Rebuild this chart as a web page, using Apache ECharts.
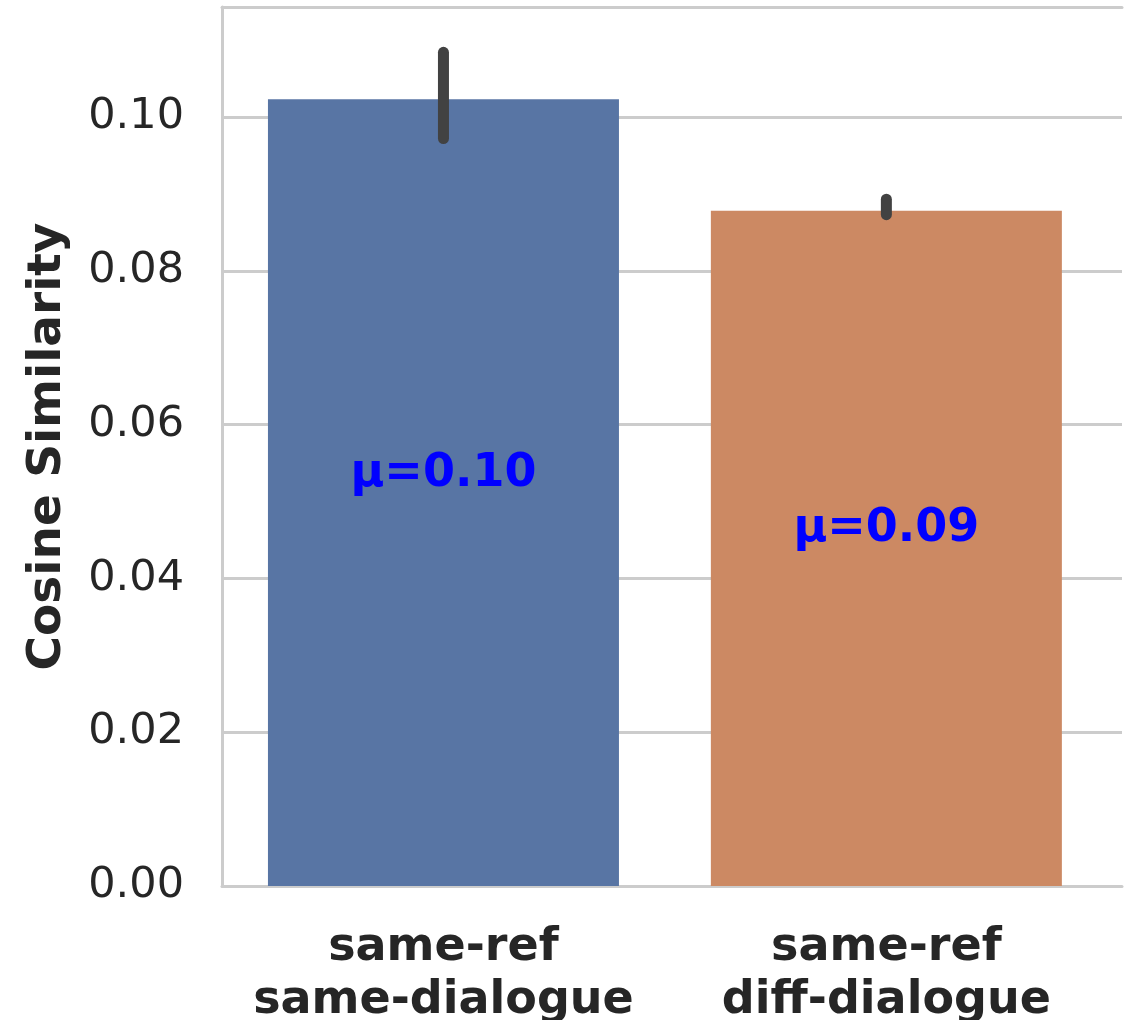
<!DOCTYPE html>
<html>
<head>
<meta charset="utf-8">
<script src="https://cdn.jsdelivr.net/npm/echarts@6/dist/echarts.min.js"></script>
<style>
  html, body { margin: 0; padding: 0; background: #fff; }
  #chart { width: 1132px; height: 1020px; }
</style>
</head>
<body>
<div id="chart"></div>
<script>
var categories = ['same-ref\nsame-dialogue', 'same-ref\ndiff-dialogue'];
var means = [0.1023, 0.0878];
var errLow = [0.0972, 0.0873];
var errHigh = [0.1084, 0.0893];
var barColors = ['#5875a4', '#cc8963'];
var yTicks = [0, 0.02, 0.04, 0.06, 0.08, 0.10];

var chart = echarts.init(document.getElementById('chart'));
var font = 'DejaVu Sans';
var textColor = '#262626';

var option = {
  backgroundColor: '#ffffff',
  animation: false,
  grid: { left: 222, right: 10, top: 7, bottom: 134, outerBoundsMode: 'none', containLabel: false },
  xAxis: [{
    type: 'value',
    min: -0.5,
    max: 1.532,
    axisLine: { show: true, onZero: false, lineStyle: { color: '#cccccc', width: 3 } },
    axisTick: { show: false },
    splitLine: { show: false },
    axisLabel: {
      customValues: [0, 1],
      formatter: function (v) { return categories[Math.round(v)]; },
      fontFamily: font,
      fontWeight: 'bold',
      fontSize: 46,
      lineHeight: 53,
      color: textColor,
      margin: 36
    }
  }, {
    type: 'value',
    position: 'top',
    min: -0.5,
    max: 1.532,
    axisLine: { show: true, onZero: false, lineStyle: { color: '#cccccc', width: 3 } },
    axisTick: { show: false },
    axisLabel: { show: false },
    splitLine: { show: false }
  }],
  yAxis: {
    type: 'value',
    min: 0,
    max: 0.1143,
    interval: 0.02,
    name: 'Cosine Similarity',
    nameLocation: 'middle',
    nameGap: 151,
    nameTextStyle: { fontFamily: font, fontWeight: 'bold', fontSize: 47, color: textColor },
    axisLine: { show: true, onZero: false, lineStyle: { color: '#cccccc', width: 3 } },
    axisTick: { show: false },
    splitLine: { show: true, lineStyle: { color: '#cccccc', width: 3 } },
    axisLabel: {
      fontFamily: font,
      fontSize: 43,
      color: textColor,
      margin: 38,
      showMaxLabel: false,
      formatter: function (v) {
        return yTicks.some(function (t) { return Math.abs(t - v) < 1e-9; }) ? v.toFixed(2) : '';
      }
    }
  },
  series: [{
    type: 'bar',
    barWidth: 351,
    data: means.map(function (m, i) {
      return { value: [i, m], itemStyle: { color: barColors[i] } };
    }),
    z: 2
  }, {
    type: 'custom',
    data: means.map(function (m, i) { return [i, errLow[i], errHigh[i]]; }),
    renderItem: function (params, api) {
      var lo = api.coord([api.value(0), api.value(1)]);
      var hi = api.coord([api.value(0), api.value(2)]);
      return {
        type: 'line',
        shape: { x1: lo[0], y1: lo[1], x2: hi[0], y2: hi[1] },
        style: { stroke: '#424242', lineWidth: 11, lineCap: 'round' }
      };
    },
    z: 5
  }, {
    type: 'custom',
    data: means.map(function (m, i) { return [i, m]; }),
    renderItem: function (params, api) {
      var m = api.value(1);
      var p = api.coord([api.value(0), m / 2]);
      return {
        type: 'text',
        x: p[0],
        y: p[1] + 4,
        style: {
          text: '\u03bc=' + m.toFixed(2),
          fontFamily: font,
          fontWeight: 'bold',
          fontSize: 46,
          fill: '#0000ff',
          align: 'center',
          verticalAlign: 'bottom'
        }
      };
    },
    z: 6
  }]
};

chart.setOption(option);
</script>
</body>
</html>
